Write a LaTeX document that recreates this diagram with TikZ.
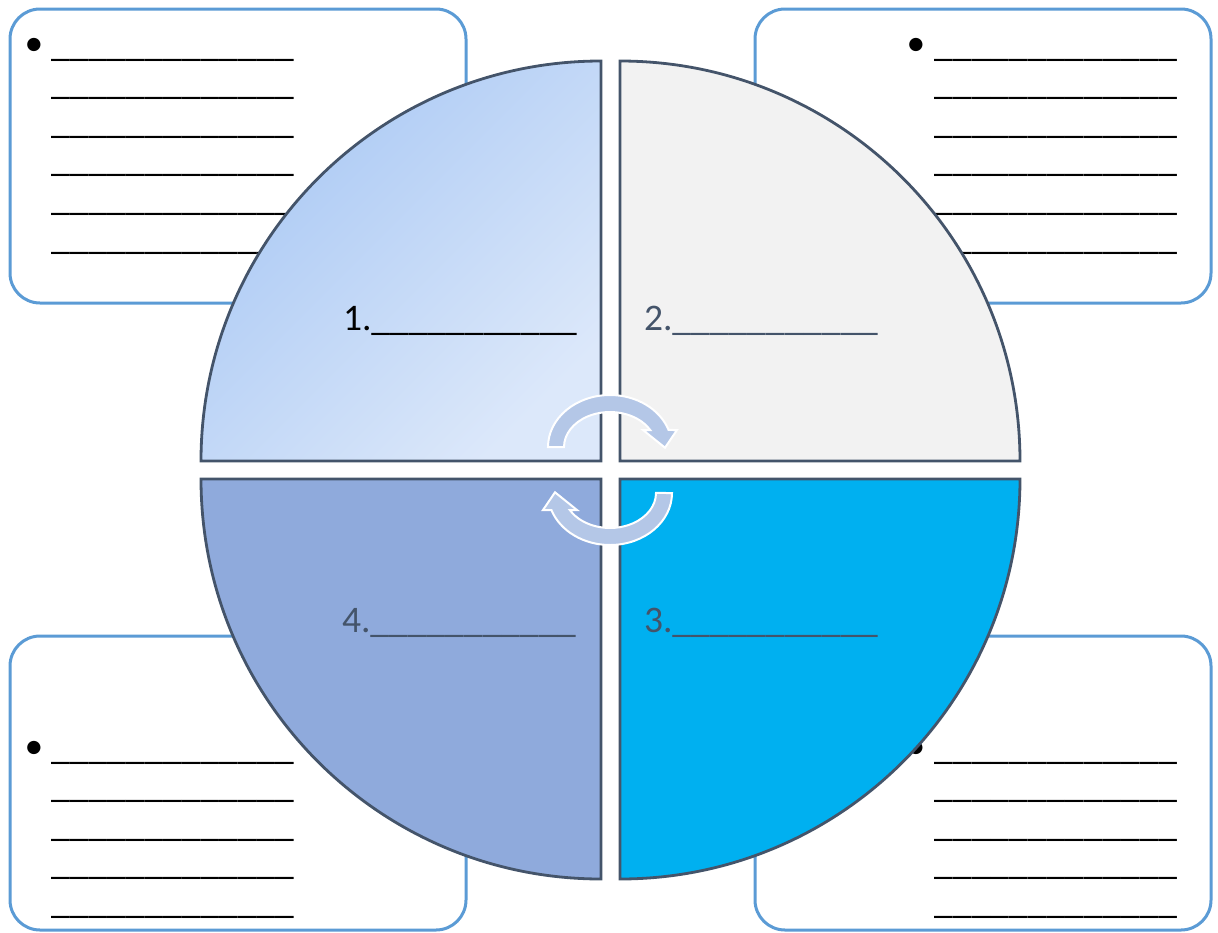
\documentclass[tikz,border=0pt]{standalone}
\usepackage{fontspec}
\setmainfont{Carlito}
\definecolor{boxblue}{HTML}{5B9BD5}
\definecolor{slate}{HTML}{44546A}
\definecolor{qTLa}{HTML}{A9C8F4}
\definecolor{qTLb}{HTML}{DCE8FA}
\definecolor{qTR}{HTML}{F2F2F2}
\definecolor{qBL}{HTML}{8FAADC}
\definecolor{qBR}{HTML}{00B0F0}
\definecolor{arrowfill}{HTML}{B4C7E7}
\newcommand\bigfont{\fontsize{37.5}{38.6}\selectfont}
\newcommand\myline{\_\_\_\_\_\_\_\_\_\_\_\_\_}
\newcommand\myblank{\_\_\_\_\_\_\_\_\_\_\_}
\tikzset{
  infobox/.style={draw=boxblue, line width=3pt, rounded corners=30pt, fill=white,
    minimum width=456pt, minimum height=294pt, inner sep=0pt},
  quad/.style={draw=slate, line width=2.8pt},
  txt/.style={inner sep=0pt, outer sep=0pt, font=\bigfont},
  cyc/.style={fill=arrowfill, draw=white, line width=2pt, line join=miter},
}
\begin{document}
\begin{tikzpicture}[x=1pt,y=-1pt]
\useasboundingbox (0,0) rectangle (1218,932);
% boxes
\node[infobox] (boxTL) at (238,156) {};
\node[infobox] (boxTR) at (983,156) {};
\node[infobox] (boxBL) at (238,783) {};
\node[infobox] (boxBR) at (983,783) {};
% bullets
\node[txt, anchor=base] (bTL) at (34,55) {•};
\node[txt, anchor=base] (bTR) at (916,55) {•};
\node[txt, anchor=base] (bBL) at (34,758) {•};
\node[txt, anchor=base] (bBR) at (916,758) {•};
% lines
\foreach \i in {1,...,6} {
  \node[txt, anchor=base west] (tl\i) at (51,{56+38.6*(\i-1)}) {\myline};
  \node[txt, anchor=base east] (tr\i) at (1177,{56+38.6*(\i-1)}) {\myline};
}
\foreach \i in {1,...,5} {
  \node[txt, anchor=base west] (bl\i) at (51,{759+38.6*(\i-1)}) {\myline};
  \node[txt, anchor=base east] (br\i) at (1177,{759+38.6*(\i-1)}) {\myline};
}
% quadrants
\path[quad, top color=qTLa, bottom color=qTLb, shading angle=45]
  (601,461) -- (201,461) arc[start angle=180, end angle=270, radius=400] -- cycle;
\path[quad, fill=qTR]
  (620,461) -- (620,61) arc[start angle=270, end angle=360, radius=400] -- cycle;
\path[quad, fill=qBR]
  (620,479) -- (1020,479) arc[start angle=0, end angle=90, radius=400] -- cycle;
\path[quad, fill=qBL]
  (601,479) -- (601,879) arc[start angle=90, end angle=180, radius=400] -- cycle;
% labels
\node[txt, anchor=base west] (l1) at (343,330) {1.\myblank};
\node[txt, anchor=base west, text=slate] (l2) at (644,330) {2.\myblank};
\node[txt, anchor=base west, text=slate] (l4) at (342,632) {4.\myblank};
\node[txt, anchor=base west, text=slate] (l3) at (644,632) {3.\myblank};
% cycle arrows
\foreach \r in {0,180} {
  \path[cyc, rotate around={\r:(610,470)}]
    (548,447) arc[start angle=180, end angle=340.9, x radius=62, y radius=52]
    -- (677,430) -- (665,447.7) -- (643,430) -- (650.2,430)
    arc[start angle=330.9, end angle=180, x radius=46, y radius=35] -- cycle;
}
\end{tikzpicture}
\end{document}
